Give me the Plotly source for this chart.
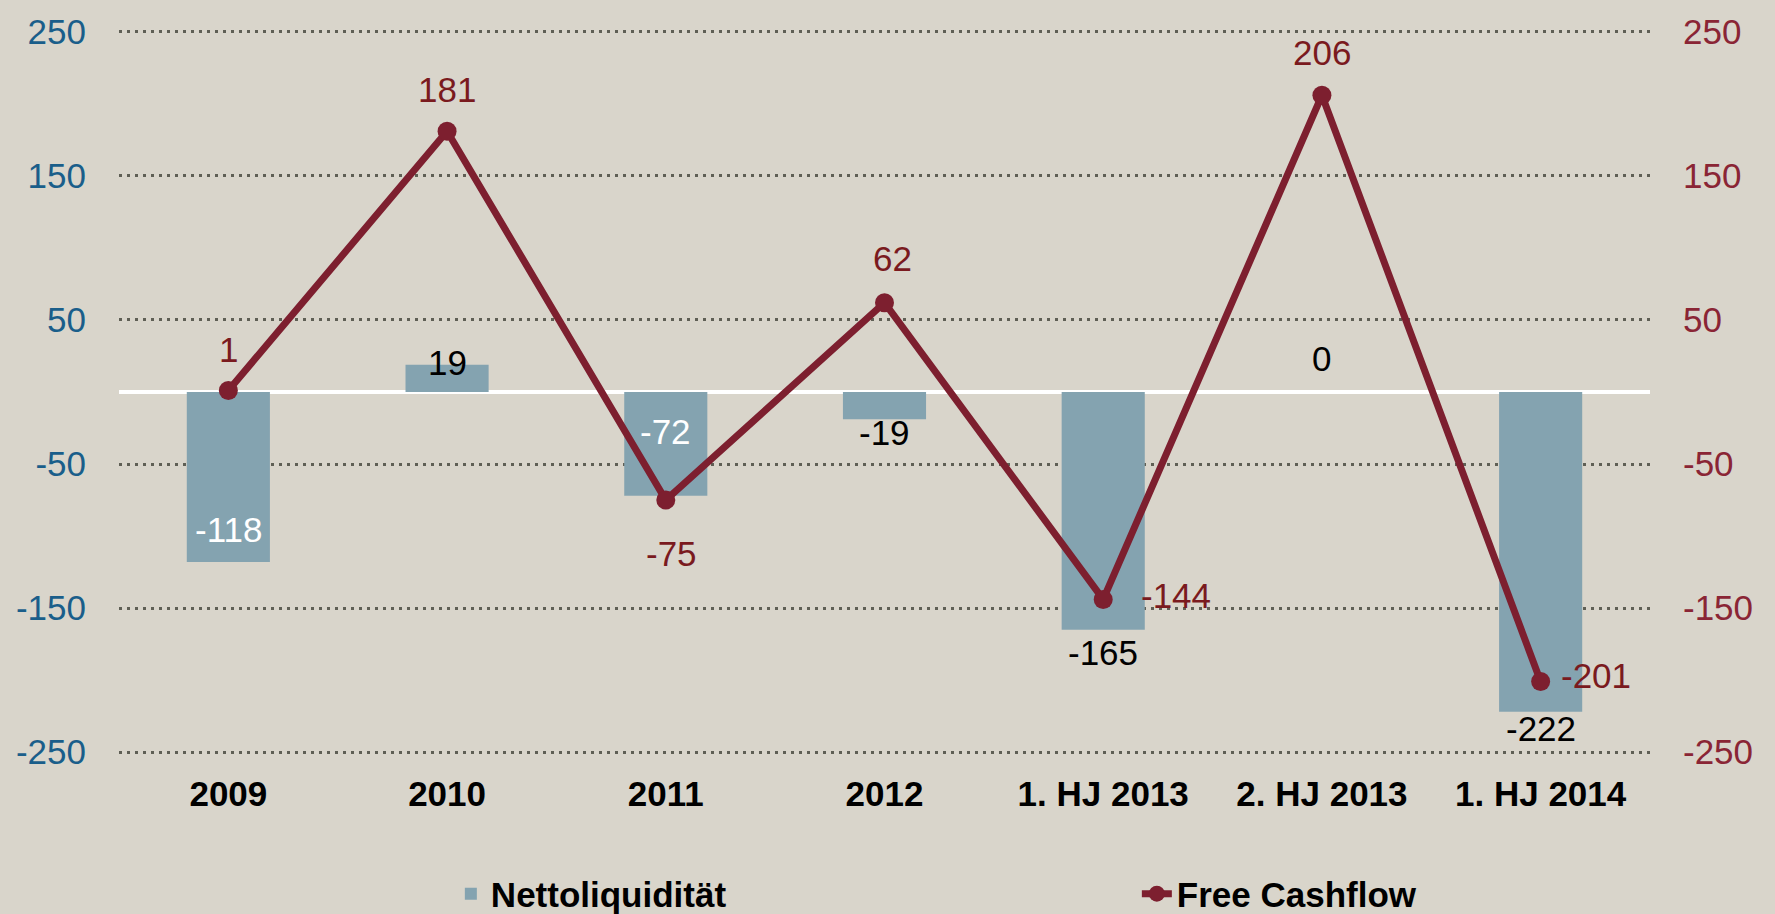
import plotly.graph_objects as go

categories = ["2009", "2010", "2011", "2012", "1. HJ 2013", "2. HJ 2013", "1. HJ 2014"]
netto = [-118, 19, -72, -19, -165, 0, -222]
fcf = [1, 181, -75, 62, -144, 206, -201]
tick_vals = [-250, -150, -50, 50, 150, 250]
tick_text = [str(v) for v in tick_vals]

# label placement (pixel offsets from data point) and colours
netto_shift = [32, 2, 64, -13, -23, 34, -17]
netto_color = ["white", "black", "white", "black", "black", "black", "black"]
fcf_xshift = [0, 0, 6, 8, 73, 0, 55]
fcf_yshift = [41, 42, -53, 44, 4, 43, 6]

BG = "#D9D5CB"
BAR = "#84A3B0"
LINE = "#7D1F2F"
LBL_RED = "#7A1A1E"
FONT = "Liberation Sans, Arial, sans-serif"

fig = go.Figure()
fig.add_trace(go.Bar(x=categories, y=netto, name="Nettoliquidität",
                     marker=dict(color=BAR, line=dict(width=0)), yaxis="y"))
fig.add_trace(go.Scatter(x=categories, y=fcf, name="Free Cashflow", mode="lines+markers",
                         line=dict(color=LINE, width=7), marker=dict(color=LINE, size=19),
                         yaxis="y2"))

ann = []
# category axis: annotations positioned by category index
for i, (v, s, col) in enumerate(zip(netto, netto_shift, netto_color)):
    ann.append(dict(x=i, y=v, yref="y", text=str(v), showarrow=False, yshift=s,
                    yanchor="middle", font=dict(size=35, color=col, family=FONT)))
for i, (v, xs, ys) in enumerate(zip(fcf, fcf_xshift, fcf_yshift)):
    ann.append(dict(x=i, y=v, yref="y2", text=str(v), showarrow=False, xshift=xs, yshift=ys,
                    yanchor="middle", font=dict(size=35, color=LBL_RED, family=FONT)))

yr = [-252, 252]
fig.update_layout(
    width=1775, height=914,
    paper_bgcolor=BG, plot_bgcolor=BG,
    margin=dict(l=119, r=125, t=23, b=159),
    bargap=0.62,
    font=dict(family=FONT),
    xaxis=dict(type="category", range=[-0.5, len(categories) - 0.5], showgrid=False,
               tickfont=dict(size=35, color="black", family=FONT, weight="bold"),
               ticks="", ticklabelstandoff=15, showline=False),
    yaxis=dict(range=yr, tickvals=tick_vals, ticktext=tick_text, ticks="", ticklabelstandoff=32,
               tickfont=dict(size=35, color="#1A5E8A", family=FONT),
               showgrid=True, gridcolor="#5F5F55", gridwidth=3, griddash="3px,5px",
               zeroline=True, zerolinecolor="white", zerolinewidth=4, showline=False),
    yaxis2=dict(range=yr, tickvals=tick_vals, ticktext=tick_text, ticks="", ticklabelstandoff=32,
                overlaying="y", side="right", tickfont=dict(size=35, color="#8A2535", family=FONT),
                showgrid=False, zeroline=False, showline=False),
    legend=dict(orientation="h", xref="container", yref="container", x=0.254, y=0.022,
                xanchor="left", yanchor="middle", bgcolor="rgba(0,0,0,0)",
                font=dict(size=35, color="black", family=FONT, weight="bold"),
                entrywidth=641, entrywidthmode="pixels"),
    annotations=ann,
    showlegend=True,
)

fig.write_html("out.html", config={"displayModeBar": False},
               post_script="document.body.style.margin='0';")
